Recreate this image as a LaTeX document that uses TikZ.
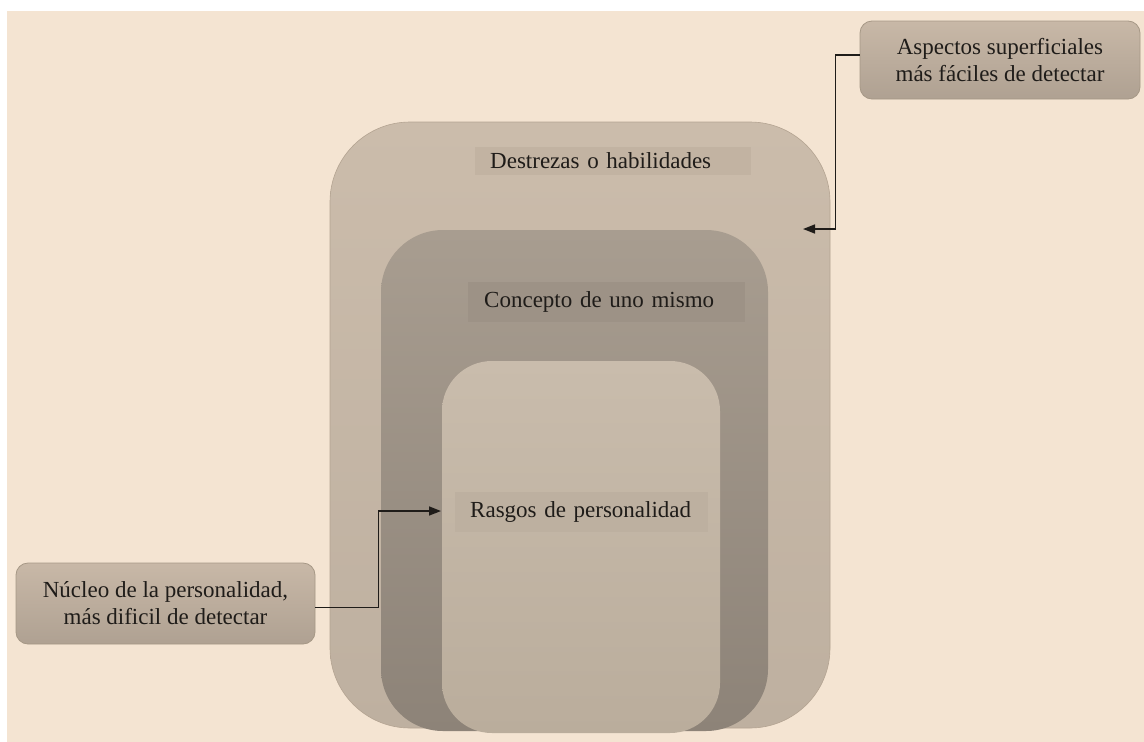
\documentclass[tikz,border=0pt]{standalone}
\usepackage{fontspec}
\setmainfont{Liberation Serif}
\usetikzlibrary{arrows.meta}
\definecolor{bg}{HTML}{F4E4D2}
\definecolor{outerT}{HTML}{CBBCAB}
\definecolor{outerB}{HTML}{BEB0A0}
\definecolor{outerD}{HTML}{B4A492}
\definecolor{midT}{HTML}{A89D90}
\definecolor{midB}{HTML}{8D8378}
\definecolor{innT}{HTML}{C9BCAC}
\definecolor{innB}{HTML}{BAAD9C}
\definecolor{lblO}{HTML}{C2B3A2}
\definecolor{lblM}{HTML}{9D9286}
\definecolor{lblI}{HTML}{BDB0A0}
\definecolor{boxT}{HTML}{C8B8A7}
\definecolor{boxB}{HTML}{AFA192}
\definecolor{boxD}{HTML}{A69886}
\definecolor{ink}{HTML}{1F1C19}
\begin{document}
\begin{tikzpicture}[x=1pt,y=-1pt,
  txt/.style={font=\fontsize{23}{27}\selectfont, text=ink},
  layer/.style={inner sep=0pt},
  lbl/.style={txt, inner xsep=15pt, inner ysep=0pt, align=left, anchor=west},
  callout/.style={txt, draw=boxD, line width=0.8pt, rounded corners=12pt, top color=boxT, bottom color=boxB, align=center, inner sep=0pt},
  conn/.style={draw=ink, line width=1.6pt, -{Triangle[length=12pt,width=9pt]}}
]
\useasboundingbox (0,0) rectangle (1144,742);
\fill[white] (0,0) rectangle (1144,742);
\fill[bg] (7,11) rectangle (1144,742);

% nested layers
\node[layer, draw=outerD, line width=0.6pt, rounded corners=80pt, top color=outerT, bottom color=outerB,
      minimum width=500pt, minimum height=606pt] (outer) at (580,425) {};
\node[layer, rounded corners=62pt, top color=midT, bottom color=midB,
      minimum width=387pt, minimum height=501pt] (mid) at (574.5,480.5) {};
\node[layer, rounded corners=50pt, top color=innT, bottom color=innB,
      minimum width=278pt, minimum height=372pt] (inner) at (581,547) {};

% layer labels
\node[lbl, fill=lblO, minimum width=276pt, minimum height=28pt, text width=246pt] (l1) at (475,161) {Destrezas o habilidades};
\node[lbl, fill=lblM, minimum width=277pt, minimum height=40pt, text width=245pt] (l2) at (468,302) {Concepto de uno mismo};
\node[lbl, fill=lblI, minimum width=253pt, minimum height=40pt, text width=223pt] (l3) at (455,512) {Rasgos de personalidad};

% callouts
\node[callout, minimum width=280pt, minimum height=78pt] (tr) at (1000,60) {Aspectos superficiales\\más fáciles de detectar};
\node[callout, minimum width=299pt, minimum height=81pt] (bl) at (165.5,603.5) {Núcleo de la personalidad,\\más dificil de detectar};

% connectors
\coordinate (a1) at (803,229);
\coordinate (a2) at (441,511);
\draw[conn] ([yshift=5pt]tr.west) -- ++(-24,0) |- (a1);
\draw[conn] ([yshift=-4pt]bl.east) -- ++(63,0) |- (a2);
\end{tikzpicture}
\end{document}
